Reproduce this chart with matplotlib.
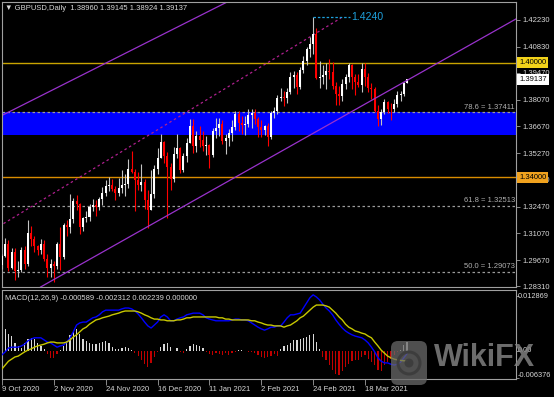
import matplotlib
matplotlib.use("Agg")
import matplotlib.pyplot as plt
import matplotlib.transforms as mtransforms
from matplotlib.patches import FancyBboxPatch, Circle
import numpy as np

plt.rcParams['font.family'] = ['Liberation Sans', 'DejaVu Sans']

# GBPUSD daily bars, 9 Oct 2020 .. 6 Apr 2021 (no bars on 25 Dec / 1 Jan)
opens = [1.2940, 1.2990, 1.3050, 1.2925, 1.3010, 1.2910, 1.2915, 1.3020, 1.2945, 1.3110,
         1.3080, 1.3040, 1.3020, 1.3050, 1.2975, 1.2925, 1.2945, 1.2935, 1.3050, 1.2985,
         1.3150, 1.3140, 1.3180, 1.3275, 1.3260, 1.3140, 1.3190, 1.3195, 1.3245, 1.3255,
         1.3245, 1.3285, 1.3320, 1.3355, 1.3360, 1.3340, 1.3320, 1.3345, 1.3360, 1.3365,
         1.3445, 1.3430, 1.3385, 1.3360, 1.3375, 1.3280, 1.3230, 1.3315, 1.3445, 1.3500,
         1.3585, 1.3510, 1.3455, 1.3390, 1.3520, 1.3555, 1.3440, 1.3510, 1.3580, 1.3670,
         1.3565, 1.3615, 1.3595, 1.3565, 1.3570, 1.3515, 1.3645, 1.3660, 1.3680, 1.3590,
         1.3605, 1.3630, 1.3665, 1.3730, 1.3685, 1.3675, 1.3680, 1.3725, 1.3735, 1.3705,
         1.3665, 1.3650, 1.3670, 1.3610, 1.3735, 1.3745, 1.3815, 1.3820, 1.3815, 1.3845,
         1.3925, 1.3935, 1.3870, 1.3960, 1.4010, 1.4070, 1.4095, 1.4150, 1.3920, 1.3925,
         1.3935, 1.3955, 1.3950, 1.3880, 1.3835, 1.3825, 1.3890, 1.3925, 1.3990, 1.3925,
         1.3900, 1.3885, 1.3965, 1.3925, 1.3865, 1.3860, 1.3745, 1.3705, 1.3740, 1.3795,
         1.3760, 1.3755, 1.3785, 1.3830, 1.3835, 1.38960]
highs = [1.3000, 1.3083, 1.3070, 1.3030, 1.3030, 1.2960, 1.3035, 1.3040, 1.3177, 1.3145,
         1.3095, 1.3045, 1.3080, 1.3070, 1.3000, 1.2975, 1.2965, 1.3060, 1.3140, 1.3160,
         1.3175, 1.3313, 1.3290, 1.3310, 1.3265, 1.3195, 1.3225, 1.3260, 1.3285, 1.3280,
         1.3295, 1.3350, 1.3385, 1.3400, 1.3390, 1.3355, 1.3395, 1.3440, 1.3420, 1.3495,
         1.3540, 1.3445, 1.3430, 1.3470, 1.3390, 1.3335, 1.3440, 1.3465, 1.3555, 1.3625,
         1.3590, 1.3535, 1.3475, 1.3560, 1.3625, 1.3560, 1.3525, 1.3605, 1.3703, 1.3705,
         1.3640, 1.3670, 1.3640, 1.3615, 1.3575, 1.3660, 1.3710, 1.3710, 1.3700, 1.3625,
         1.3655, 1.3700, 1.3745, 1.3745, 1.3720, 1.3720, 1.3760, 1.3755, 1.3760, 1.3715,
         1.3700, 1.3675, 1.3685, 1.3745, 1.3770, 1.3830, 1.3865, 1.3850, 1.3865, 1.3950,
         1.3955, 1.3950, 1.3975, 1.4035, 1.4080, 1.4135, 1.4240, 1.4180, 1.4010, 1.3990,
         1.4000, 1.4017, 1.4005, 1.3900, 1.3880, 1.3915, 1.3940, 1.4000, 1.3995, 1.3940,
         1.3940, 1.4000, 1.4000, 1.3945, 1.3895, 1.3875, 1.3780, 1.3760, 1.3810, 1.3800,
         1.3790, 1.3810, 1.3850, 1.3850, 1.3900, 1.39145]
lows = [1.2920, 1.2985, 1.2910, 1.2920, 1.2865, 1.2880, 1.2905, 1.2920, 1.2935, 1.3040,
        1.3010, 1.2995, 1.3000, 1.2960, 1.2880, 1.2880, 1.2855, 1.2920, 1.2915, 1.2975,
        1.3095, 1.3110, 1.3160, 1.3230, 1.3105, 1.3120, 1.3165, 1.3170, 1.3225, 1.3200,
        1.3230, 1.3255, 1.3300, 1.3330, 1.3330, 1.3280, 1.3300, 1.3320, 1.3300, 1.3345,
        1.3425, 1.3225, 1.3335, 1.3330, 1.3235, 1.3135, 1.3230, 1.3290, 1.3415, 1.3500,
        1.3475, 1.3190, 1.3335, 1.3375, 1.3500, 1.3425, 1.3430, 1.3480, 1.3580, 1.3525,
        1.3535, 1.3560, 1.3540, 1.3515, 1.3450, 1.3505, 1.3605, 1.3615, 1.3575, 1.3520,
        1.3565, 1.3590, 1.3650, 1.3640, 1.3625, 1.3620, 1.3665, 1.3660, 1.3680, 1.3610,
        1.3610, 1.3620, 1.3566, 1.3600, 1.3710, 1.3730, 1.3800, 1.3775, 1.3790, 1.3835,
        1.3865, 1.3835, 1.3860, 1.3945, 1.3990, 1.4030, 1.4045, 1.3915, 1.3865, 1.3890,
        1.3860, 1.3915, 1.3860, 1.3776, 1.3780, 1.3800, 1.3860, 1.3900, 1.3860, 1.3830,
        1.3870, 1.3845, 1.3880, 1.3845, 1.3810, 1.3740, 1.3670, 1.3675, 1.3730, 1.3735,
        1.3700, 1.3740, 1.3770, 1.3800, 1.3825, 1.38924]
closes = [1.2990, 1.3050, 1.2925, 1.3010, 1.2910, 1.2915, 1.3020, 1.2945, 1.3110, 1.3080,
          1.3040, 1.3020, 1.3050, 1.2975, 1.2925, 1.2945, 1.2935, 1.3050, 1.2985, 1.3150,
          1.3140, 1.3180, 1.3275, 1.3260, 1.3140, 1.3190, 1.3195, 1.3245, 1.3255, 1.3245,
          1.3285, 1.3320, 1.3355, 1.3360, 1.3340, 1.3320, 1.3345, 1.3360, 1.3365, 1.3445,
          1.3430, 1.3385, 1.3360, 1.3375, 1.3280, 1.3230, 1.3315, 1.3445, 1.3500, 1.3585,
          1.3510, 1.3455, 1.3390, 1.3520, 1.3555, 1.3440, 1.3510, 1.3580, 1.3670, 1.3565,
          1.3615, 1.3595, 1.3565, 1.3570, 1.3515, 1.3645, 1.3660, 1.3680, 1.3590, 1.3605,
          1.3630, 1.3665, 1.3730, 1.3685, 1.3675, 1.3680, 1.3725, 1.3735, 1.3705, 1.3665,
          1.3650, 1.3670, 1.3610, 1.3735, 1.3745, 1.3815, 1.3820, 1.3815, 1.3845, 1.3925,
          1.3935, 1.3870, 1.3960, 1.4010, 1.4070, 1.4095, 1.4150, 1.3920, 1.3925, 1.3935,
          1.3955, 1.3950, 1.3880, 1.3835, 1.3825, 1.3890, 1.3925, 1.3990, 1.3925, 1.3900,
          1.3885, 1.3965, 1.3925, 1.3865, 1.3860, 1.3745, 1.3705, 1.3740, 1.3795, 1.3760,
          1.3755, 1.3785, 1.3830, 1.3835, 1.3896, 1.39137]

# MACD(12,26,9) window: main line (blue), signal (yellow), histogram
macd_main = [-0.0009, -0.0002, 0.0007, 0.0009, 0.0009, 0.0009, 0.0012, 0.0016, 0.0024, 0.0028,
             0.0031, 0.0031, 0.0031, 0.0026, 0.0021, 0.0019, 0.0014, 0.0009, 0.0012, 0.0014,
             0.0021, 0.0031, 0.0045, 0.0061, 0.0066, 0.0068, 0.0068, 0.0073, 0.0078, 0.0080,
             0.0085, 0.0092, 0.0096, 0.0096, 0.0096, 0.0096, 0.0096, 0.0099, 0.0101, 0.0101,
             0.0099, 0.0094, 0.0087, 0.0078, 0.0068, 0.0059, 0.0054, 0.0061, 0.0068, 0.0080,
             0.0085, 0.0080, 0.0071, 0.0071, 0.0075, 0.0078, 0.0080, 0.0085, 0.0087, 0.0089,
             0.0089, 0.0089, 0.0085, 0.0078, 0.0075, 0.0073, 0.0071, 0.0071, 0.0071, 0.0071,
             0.0071, 0.0073, 0.0075, 0.0075, 0.0073, 0.0073, 0.0071, 0.0066, 0.0061, 0.0056,
             0.0052, 0.0049, 0.0052, 0.0056, 0.0056, 0.0059, 0.0059, 0.0068, 0.0078, 0.0085,
             0.0085, 0.0087, 0.0089, 0.0101, 0.0113, 0.0125, 0.0132, 0.0127, 0.0120, 0.0110,
             0.0101, 0.0094, 0.0085, 0.0073, 0.0063, 0.0054, 0.0047, 0.0042, 0.0038, 0.0035,
             0.0033, 0.0031, 0.0026, 0.0019, 0.0009, -0.0002, -0.0016, -0.0024, -0.0028, -0.0028,
             -0.0031, -0.0033, -0.0031, -0.0026, -0.0016, -0.0006]
macd_signal = [-0.0042, -0.0033, -0.0024, -0.0019, -0.0014, -0.0012, -0.0007, -0.0002, 0.0002, 0.0005,
               0.0009, 0.0012, 0.0014, 0.0016, 0.0019, 0.0021, 0.0021, 0.0019, 0.0019, 0.0019,
               0.0021, 0.0026, 0.0033, 0.0038, 0.0045, 0.0052, 0.0056, 0.0063, 0.0068, 0.0073,
               0.0075, 0.0078, 0.0080, 0.0082, 0.0085, 0.0087, 0.0089, 0.0092, 0.0094, 0.0094,
               0.0094, 0.0094, 0.0092, 0.0089, 0.0085, 0.0082, 0.0078, 0.0075, 0.0075, 0.0073,
               0.0073, 0.0071, 0.0071, 0.0071, 0.0073, 0.0073, 0.0075, 0.0078, 0.0078, 0.0080,
               0.0080, 0.0080, 0.0080, 0.0080, 0.0080, 0.0080, 0.0080, 0.0078, 0.0078, 0.0075,
               0.0075, 0.0073, 0.0073, 0.0073, 0.0073, 0.0073, 0.0073, 0.0071, 0.0071, 0.0068,
               0.0066, 0.0063, 0.0061, 0.0061, 0.0059, 0.0059, 0.0059, 0.0056, 0.0059, 0.0061,
               0.0066, 0.0071, 0.0078, 0.0082, 0.0089, 0.0096, 0.0103, 0.0108, 0.0108, 0.0108,
               0.0106, 0.0103, 0.0096, 0.0089, 0.0080, 0.0073, 0.0063, 0.0056, 0.0052, 0.0047,
               0.0045, 0.0042, 0.0040, 0.0035, 0.0031, 0.0021, 0.0012, 0.0002, -0.0005, -0.0012,
               -0.0016, -0.0019, -0.0021, -0.0022, -0.0023, -0.0023]
macd_hist = [0.0042, 0.0052, 0.0040, 0.0035, 0.0019, 0.0012, 0.0007, 0.0019, 0.0028, 0.0031,
             0.0028, 0.0019, 0.0012, 0.0005, -0.0007, -0.0016, -0.0016, -0.0007, 0.0002, 0.0012,
             0.0024, 0.0038, 0.0047, 0.0052, 0.0040, 0.0028, 0.0024, 0.0019, 0.0016, 0.0016,
             0.0019, 0.0021, 0.0024, 0.0019, 0.0009, 0.0005, 0.0005, 0.0007, 0.0009, 0.0007,
             0.0002, -0.0005, -0.0012, -0.0021, -0.0031, -0.0038, -0.0028, -0.0014, -0.0002, 0.0009,
             0.0016, 0.0019, 0.0009, 0.0001, 0.0007, -0.0002, -0.0005, 0.0005, 0.0012, 0.0016,
             0.0014, 0.0012, 0.0007, -0.0002, -0.0007, -0.0009, -0.0005, -0.0007, -0.0009, -0.0005,
             -0.0009, -0.0005, -0.0002, 0.0002, 0.0002, 0.0001, -0.0002, -0.0002, -0.0005, -0.0009,
             -0.0014, -0.0016, -0.0014, -0.0012, -0.0007, -0.0012, 0.0005, 0.0011, 0.0015, 0.0019,
             0.0025, 0.0025, 0.0028, 0.0031, 0.0033, 0.0038, 0.0041, 0.0021, 0.0005, -0.0014,
             -0.0021, -0.0033, -0.0045, -0.0054, -0.0056, -0.0047, -0.0038, -0.0031, -0.0024, -0.0021,
             -0.0021, -0.0014, -0.0009, -0.0019, -0.0026, -0.0033, -0.0045, -0.0047, -0.0033, -0.0026,
             -0.0019, -0.0009, -0.0002, 0.0002, 0.0014, 0.0022]

date_ticks = [0, 16, 32, 48, 64, 80, 96, 112]
date_labels = ['9 Oct 2020', '2 Nov 2020', '24 Nov 2020', '16 Dec 2020',
               '11 Jan 2021', '2 Feb 2021', '24 Feb 2021', '18 Mar 2021']
price_ticks = [1.42230, 1.40830, 1.39470, 1.38070, 1.36670, 1.35270,
               1.33870, 1.32470, 1.31070, 1.29670, 1.28310]
macd_ticks = [0.012869, 0.0, -0.006376]
macd_tick_labels = ['0.012869', '0.00', '-0.006376']

# drawn objects (bar index, price)
zone = (1.36216, 1.37411)
levels = {1.40000: ('#c9a400', '#f2d21a'), 1.34000: ('#d98c00', '#f0a21e')}
fib_levels = [(1.37411, '78.6 = 1.37411'), (1.32513, '61.8 = 1.32513'), (1.29073, '50.0 = 1.29073')]
channel_upper = [(0.25, 1.37261), (70.7, 1.43276)]
channel_lower = [(11.36, 1.28214), (158.9, 1.42314)]
channel_mid = [(-1.0, 1.31430), (104.6, 1.42335)]
peak_idx, peak_price, peak_label_end = 96, 1.4240, 107.5
last_price = 1.39137

BG = 'black'
AXC = '#a0a0a0'
TXT = '#d8d8d8'
FS = 5.5

W, H = 554, 397
fig = plt.figure(figsize=(W / 100, H / 100), dpi=100, facecolor=BG)


def frac(x0, y0, x1, y1):
    return [x0 / W, 1 - y1 / H, (x1 - x0) / W, (y1 - y0) / H]


ax = fig.add_axes(frac(2, 2, 516, 287), facecolor=BG)
ax2 = fig.add_axes(frac(2, 290, 516, 379), facecolor=BG, sharex=ax)

x = np.arange(len(closes))
o, h, l, c = map(np.array, (opens, highs, lows, closes))
up = c >= o

# ---- main window ----
ax.axhspan(zone[0], zone[1], color='#0000ff', lw=0, zorder=1)
for lvl, (lc, _) in levels.items():
    ax.axhline(lvl, color=lc, lw=1.0, zorder=2)
for lvl, txt in fib_levels:
    ax.axhline(lvl, color='#9a9a9a', lw=0.9, dashes=(2, 2), zorder=2)
    ax.text(0.998, lvl, txt, transform=mtransforms.offset_copy(
        ax.get_yaxis_transform(), fig=fig, y=1.5, units='dots'),
        ha='right', va='bottom', fontsize=FS, color='#b0b0b0', zorder=6)

ax.axline(channel_upper[0], channel_upper[1], color='#9932cc', lw=0.9, zorder=2)
ax.axline(channel_lower[0], channel_lower[1], color='#9932cc', lw=0.9, zorder=5)
ax.plot([p[0] for p in channel_mid], [p[1] for p in channel_mid],
        color='#b0208f', lw=0.9, dashes=(2, 2.2), zorder=2)

ax.vlines(x, l, h, colors=np.where(up, '#c4c4c4', '#ff0000'), lw=0.8, zorder=3)
body = np.maximum(np.abs(c - o), 0.0003)
ax.bar(x, body, bottom=np.minimum(o, c), width=0.62,
       color=np.where(up, '#ffffff', '#ff0000'), lw=0, zorder=4)

ax.plot([peak_idx, peak_label_end], [peak_price, peak_price], color='#1ea0dc',
        lw=0.9, dashes=(2, 1.5), zorder=6)
ax.text(peak_label_end + 0.4, peak_price, '1.4240', color='#1ea0dc', fontsize=7.6,
        ha='left', va='center', zorder=6)

ax.set_xlim(0.0, 158.6)
ax.set_ylim(1.28266, 1.43171)
ax.yaxis.tick_right()
ax.set_yticks(price_ticks)
ax.set_yticklabels(['%.5f' % v for v in price_ticks])
ax.tick_params(axis='y', direction='out', length=3, width=0.6, color=AXC,
               labelsize=FS, labelcolor=TXT, pad=1.5)
ax.tick_params(axis='x', bottom=False, labelbottom=False)
for s in ax.spines.values():
    s.set_color(AXC)
    s.set_linewidth(0.8)

ytr = mtransforms.offset_copy(ax.get_yaxis_transform(), fig=fig, x=3, units='dots')
for lvl, (_, bc) in levels.items():
    ax.text(1.0, lvl, '%.5f' % lvl, transform=ytr, ha='left', va='center', fontsize=FS,
            color='black', clip_on=False, zorder=10,
            bbox=dict(boxstyle='square,pad=0.25', fc=bc, ec='none'))
ax.text(1.0, last_price, '%.5f' % last_price, transform=ytr, ha='left', va='center',
        fontsize=FS, color='black', clip_on=False, zorder=10,
        bbox=dict(boxstyle='square,pad=0.25', fc='white', ec='none'))

ax.text(3 / 514, 1 - 6 / 285, '\u25bc GBPUSD,Daily  %.5f %.5f %.5f %.5f' % (opens[-1], highs[-1], lows[-1], closes[-1]),
        transform=ax.transAxes, ha='left', va='center', fontsize=FS, color=TXT, zorder=10)

# ---- MACD window ----
hc = np.where(np.array(macd_hist) >= 0, '#d8d8d8', '#c00000')
ax2.bar(x, macd_hist, width=0.38, color=hc, lw=0, zorder=2)
ax2.plot(x, macd_main, color='#0000ff', lw=1.0, zorder=3)
ax2.plot(x, macd_signal, color='#c8c800', lw=1.0, zorder=4)
ax2.set_ylim(-0.00658, 0.014335)
ax2.set_yticks(macd_ticks)
ax2.yaxis.tick_right()
ax2.tick_params(axis='y', direction='out', length=2, width=0.6, color=AXC, labelright=False)
mtr = mtransforms.offset_copy(ax2.get_yaxis_transform(), fig=fig, x=2, units='dots')
for v, t in zip(macd_ticks, macd_tick_labels):
    dy = 3 if v < 0 else 0
    ax2.text(1.0, v, t, transform=mtransforms.offset_copy(mtr, fig=fig, y=dy, units='dots'),
             ha='left', va='center', fontsize=5.3, color=TXT, clip_on=False)

ax2.set_xticks(date_ticks)
ax2.set_xticklabels(date_labels, ha='left')
ax2.tick_params(axis='x', direction='out', length=4, width=0.6, color=AXC,
                labelsize=FS, labelcolor=TXT, pad=1)
for s in ax2.spines.values():
    s.set_color(AXC)
    s.set_linewidth(0.8)

ax2.text(3 / 514, 1 - 8 / 89, 'MACD(12,26,9) -0.000589 -0.002312 0.002239 0.000000',
         transform=ax2.transAxes, ha='left', va='center', fontsize=FS, color=TXT, zorder=10)

# ---- WikiFX watermark ----
ident = mtransforms.IdentityTransform()
icon = FancyBboxPatch((391, H - 385), 36, 44, boxstyle='round,pad=0,rounding_size=7',
                      transform=ident, fc='#6a6a6a', ec='none', alpha=0.75, zorder=20)
fig.add_artist(icon)
fig.add_artist(Circle((409, H - 363), 11, transform=ident, fc='none', ec='#3c3c3c',
                      lw=2.2, alpha=0.9, zorder=21))
fig.add_artist(Circle((409, H - 363), 4.5, transform=ident, fc='#3c3c3c', ec='none',
                      alpha=0.9, zorder=21))
fig.text(434 / W, 1 - 358 / H, 'WikiFX', fontsize=22, fontweight='bold', color='#808080',
         alpha=0.85, ha='left', va='center', zorder=20)

fig.savefig('out.png', dpi=100, facecolor=BG)
